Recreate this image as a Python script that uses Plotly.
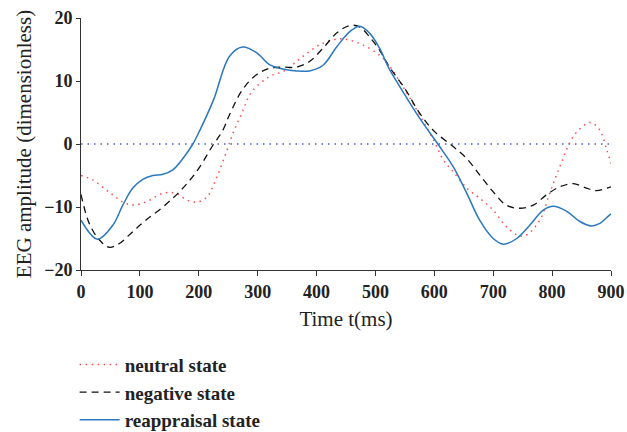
import plotly.graph_objects as go

# Grand-average ERP traces, time in ms
neutral_t = [0, 20, 50, 75, 90, 110, 140, 160, 180, 198, 214, 230, 246, 258, 274,
             290, 320, 345, 366, 388, 411, 439, 456, 479, 507, 523, 550, 575, 600,
             615, 632, 655, 677, 700, 722, 745, 757, 779, 796, 813, 836, 858, 867,
             881, 893, 900]
neutral = [-5.0, -5.7, -7.8, -9.4, -9.7, -9.2, -7.8, -7.8, -8.9, -9.2, -8.4, -5.4,
           -1.5, 1.7, 5.1, 8.3, 10.7, 11.6, 13.1, 14.7, 16.0, 16.7, 16.5, 15.7,
           14.1, 12.5, 8.6, 4.6, 0.4, -2.5, -4.4, -7.0, -8.6, -10.5, -13.1, -14.6,
           -14.4, -12.1, -7.8, -3.6, 1.2, 3.2, 3.4, 2.2, -1.0, -3.1]

negative_t = [0, 14, 31, 48, 65, 88, 110, 139, 167, 196, 224, 241, 252, 274, 298,
              320, 343, 366, 388, 411, 434, 456, 473, 490, 507, 523, 550, 575, 600,
              632, 655, 677, 700, 722, 745, 768, 790, 813, 836, 858, 875, 893, 900]
negative = [-8.0, -12.6, -15.2, -16.4, -15.8, -13.9, -12.1, -10.0, -7.6, -4.4, -0.2,
            2.2, 4.6, 8.6, 11.0, 12.0, 12.2, 12.2, 13.1, 15.2, 17.6, 18.8, 18.6,
            17.0, 14.9, 12.3, 8.8, 4.9, 2.0, -0.4, -2.3, -4.9, -7.6, -9.7, -10.2,
            -9.7, -8.1, -6.8, -6.3, -7.0, -7.4, -7.0, -6.8]

reappraisal_t = [0, 28, 54, 71, 88, 105, 122, 139, 156, 173, 190, 202, 225, 252,
                 274, 298, 320, 343, 366, 388, 411, 434, 456, 473, 490, 507, 523,
                 550, 575, 609, 632, 655, 677, 700, 717, 740, 762, 785, 802, 825,
                 847, 867, 881, 896, 900]
reappraisal = [-12.1, -15.1, -12.9, -9.7, -7.0, -5.6, -5.0, -4.8, -4.1, -2.3, 0.0,
               2.2, 7.0, 13.9, 15.4, 14.5, 12.6, 11.9, 11.6, 11.6, 12.5, 15.4, 17.8,
               18.7, 17.6, 15.2, 12.0, 7.8, 4.1, -0.4, -3.6, -7.8, -12.1, -15.0,
               -15.9, -15.0, -12.9, -10.5, -9.9, -10.7, -12.3, -13.0, -12.6, -11.4,
               -11.1]

x_ticks = [0, 100, 200, 300, 400, 500, 600, 700, 800, 900]
y_ticks = [-20, -10, 0, 10, 20]

SERIF = "Liberation Serif"
INK = "#222222"

fig = go.Figure()

# zero reference line
fig.add_trace(go.Scatter(
    x=[0, 900], y=[0, 0], mode="lines", showlegend=False,
    line=dict(color="#4a5fd0", width=1.3, dash="1.5px,5px"), hoverinfo="skip"))

fig.add_trace(go.Scatter(
    x=neutral_t, y=neutral, mode="lines", name="neutral state", legendgroup="a",
    line=dict(color="#ff4a4a", width=1.5, dash="1.5px,4.5px",
              shape="spline", smoothing=1.0)))
fig.add_trace(go.Scatter(
    x=negative_t, y=negative, mode="lines", name="negative state", legendgroup="b",
    line=dict(color="#111111", width=1.3, dash="7px,5px",
              shape="spline", smoothing=1.0)))
fig.add_trace(go.Scatter(
    x=reappraisal_t, y=reappraisal, mode="lines", name="reappraisal state",
    legendgroup="c",
    line=dict(color="#2b78c0", width=1.5, shape="spline", smoothing=1.0)))

fig.update_layout(
    width=627, height=432,
    margin=dict(l=81, r=16, t=18, b=162, autoexpand=False),
    paper_bgcolor="white", plot_bgcolor="white",
    font=dict(family=SERIF, color=INK),
    legend=dict(
        x=-0.012, y=-0.30, xanchor="left", yanchor="top",
        font=dict(family=SERIF, size=19, color=INK, weight="bold"),
        itemwidth=40, tracegroupgap=0, bgcolor="rgba(0,0,0,0)"),
    xaxis=dict(
        range=[0, 900], tickvals=x_ticks, showgrid=False, zeroline=False,
        showline=True, linecolor="#333333", linewidth=1,
        ticks="outside", ticklen=5, tickcolor="#333333",
        tickfont=dict(family=SERIF, size=18, weight="bold", color=INK),
        title=dict(text="Time t(ms)", font=dict(family=SERIF, size=21, color=INK),
                   standoff=10)),
    yaxis=dict(
        range=[-20, 20], tickvals=y_ticks, showgrid=False, zeroline=False,
        showline=True, linecolor="#333333", linewidth=1,
        ticks="outside", ticklen=4, tickcolor="#333333",
        tickfont=dict(family=SERIF, size=18, weight="bold", color=INK),
        title=dict(text="EEG amplitude (dimensionless)",
                   font=dict(family=SERIF, size=21, color=INK), standoff=6)),
)

fig.write_html("out.html")
